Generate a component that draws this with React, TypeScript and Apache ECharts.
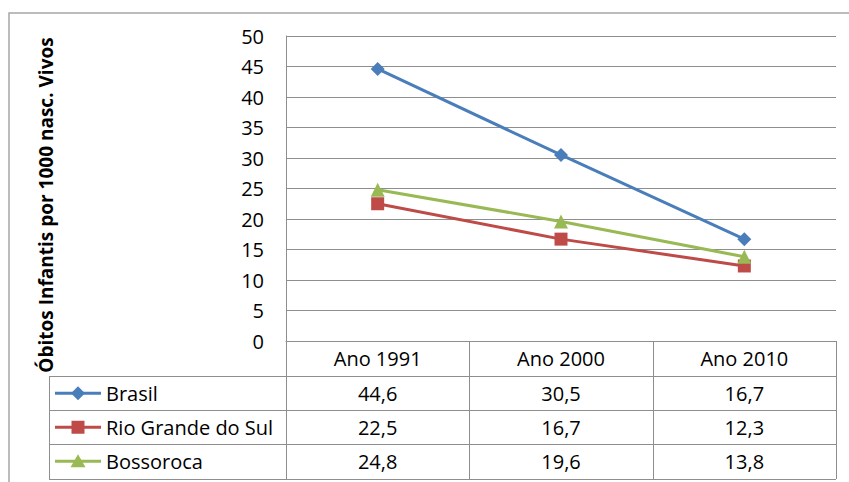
import React, { useEffect, useRef } from "react";
import * as echarts from "echarts";

const categories = ["Ano 1991", "Ano 2000", "Ano 2010"];
const seriesNames = ["Brasil", "Rio Grande do Sul", "Bossoroca"];
const brasil = [44.6, 30.5, 16.7];
const rioGrandeDoSul = [22.5, 16.7, 12.3];
const bossoroca = [24.8, 19.6, 13.8];
const seriesColors = ["#4A7EBB", "#BE4B48", "#98B954"];
const seriesSymbols = ["diamond", "rect", "triangle"];
const yAxisTitle = "Óbitos Infantis por 1000 nasc. Vivos";
const yMin = 0;
const yMax = 50;
const yInterval = 5;

const FONT = "'Open Sans', 'Liberation Sans', sans-serif";
const GRID_COLOR = "#8E8E8E";
const TEXT_COLOR = "#000";
const FS = 20;

const fmt = (v: number) => v.toFixed(1).replace(".", ",");

export default function App() {
  const ref = useRef<HTMLDivElement>(null);

  useEffect(() => {
    if (!ref.current) return;
    const chart = echarts.init(ref.current, undefined, { renderer: "svg" });
    const allData = [brasil, rioGrandeDoSul, bossoroca];

    const gridLeft = 286;
    const gridTop = 36;
    const gridRight = 13;
    const gridBottom = 141;

    chart.setOption({
      animation: false,
      backgroundColor: "#ffffff",
      textStyle: { fontFamily: FONT },
      grid: { left: gridLeft, top: gridTop, right: gridRight, bottom: gridBottom, containLabel: false },
      xAxis: {
        type: "category",
        data: categories,
        boundaryGap: true,
        axisLine: { show: true, lineStyle: { color: GRID_COLOR, width: 1 } },
        axisTick: { show: false },
        axisLabel: {
          show: true,
          margin: 6,
          color: TEXT_COLOR,
          fontSize: FS,
          fontFamily: FONT,
          lineHeight: 22,
        },
        splitLine: { show: false },
      },
      yAxis: {
        type: "value",
        min: yMin,
        max: yMax,
        interval: yInterval,
        axisLine: { show: true, lineStyle: { color: GRID_COLOR, width: 1 } },
        axisTick: { show: false },
        axisLabel: { margin: 22, color: TEXT_COLOR, fontSize: FS, fontFamily: FONT },
        splitLine: { show: true, lineStyle: { color: GRID_COLOR, width: 1 } },
      },
      series: allData.map((d, i) => ({
        name: seriesNames[i],
        type: "line",
        data: d,
        symbol: seriesSymbols[i],
        symbolSize: i === 0 ? 14 : i === 1 ? 13 : 14,
        showSymbol: true,
        lineStyle: { color: seriesColors[i], width: 3 },
        itemStyle: { color: seriesColors[i] },
        z: 3 + i,
      })),
    });

    // Build data table from the axis scale
    const xCenters = categories.map((c) => chart.convertToPixel({ xAxisIndex: 0 }, c) as number);
    const plotRight = 849 - gridRight;
    const baseY = 482 - gridBottom; // 341
    const colW = (plotRight - gridLeft) / categories.length;
    const rowTops = [376, 410, 444];
    const rowH = 34.5;
    const tableBottom = 479;
    const tableLeft = 49;

    const g: any[] = [];
    // outer chart border
    g.push({
      type: "rect",
      shape: { x: 9, y: 13, width: 900, height: 600 },
      style: { fill: "none", stroke: "#A6A6A6", lineWidth: 1.5 },
      silent: true,
    });
    // y title
    g.push({
      type: "text",
      x: 46,
      y: 205,
      rotation: Math.PI / 2,
      style: {
        text: yAxisTitle,
        fill: TEXT_COLOR,
        font: `bold 19px ${FONT}`,
        textAlign: "center",
        textVerticalAlign: "middle",
      },
    });
    // table vertical lines (column borders)
    for (let k = 0; k <= categories.length; k++) {
      const x = Math.round(gridLeft + k * colW) + 0.5;
      g.push({
        type: "line",
        shape: { x1: x, y1: baseY, x2: x, y2: tableBottom },
        style: { stroke: GRID_COLOR, lineWidth: 1 },
      });
    }
    // left legend column border
    g.push({
      type: "line",
      shape: { x1: tableLeft + 0.5, y1: rowTops[0], x2: tableLeft + 0.5, y2: tableBottom },
      style: { stroke: GRID_COLOR, lineWidth: 1 },
    });
    // horizontal lines
    [...rowTops, tableBottom].forEach((y) => {
      g.push({
        type: "line",
        shape: { x1: tableLeft, y1: y + 0.5, x2: plotRight, y2: y + 0.5 },
        style: { stroke: GRID_COLOR, lineWidth: 1 },
      });
    });
    // rows
    allData.forEach((d, i) => {
      const cy = rowTops[i] + rowH / 2;
      const color = seriesColors[i];
      // legend key line
      g.push({
        type: "line",
        shape: { x1: 55, y1: cy, x2: 101, y2: cy },
        style: { stroke: color, lineWidth: 3 },
      });
      const mx = 78;
      if (i === 0) {
        g.push({
          type: "polygon",
          shape: { points: [[mx, cy - 7], [mx + 7, cy], [mx, cy + 7], [mx - 7, cy]] },
          style: { fill: color },
        });
      } else if (i === 1) {
        g.push({
          type: "rect",
          shape: { x: mx - 6.5, y: cy - 6.5, width: 13, height: 13 },
          style: { fill: color },
        });
      } else {
        g.push({
          type: "polygon",
          shape: { points: [[mx, cy - 7], [mx + 7.5, cy + 6], [mx - 7.5, cy + 6]] },
          style: { fill: color },
        });
      }
      g.push({
        type: "text",
        x: 106,
        y: cy,
        style: {
          text: seriesNames[i],
          fill: TEXT_COLOR,
          font: `${FS}px ${FONT}`,
          textAlign: "left",
          textVerticalAlign: "middle",
        },
      });
      d.forEach((v, j) => {
        g.push({
          type: "text",
          x: xCenters[j],
          y: cy,
          style: {
            text: fmt(v),
            fill: TEXT_COLOR,
            font: `${FS}px ${FONT}`,
            textAlign: "center",
            textVerticalAlign: "middle",
          },
        });
      });
    });

    chart.setOption({ graphic: { elements: g } });

    return () => chart.dispose();
  }, []);

  return (
    <div
      ref={ref}
      style={{ position: "fixed", left: 0, top: 0, width: 849, height: 482, background: "#fff" }}
    />
  );
}
